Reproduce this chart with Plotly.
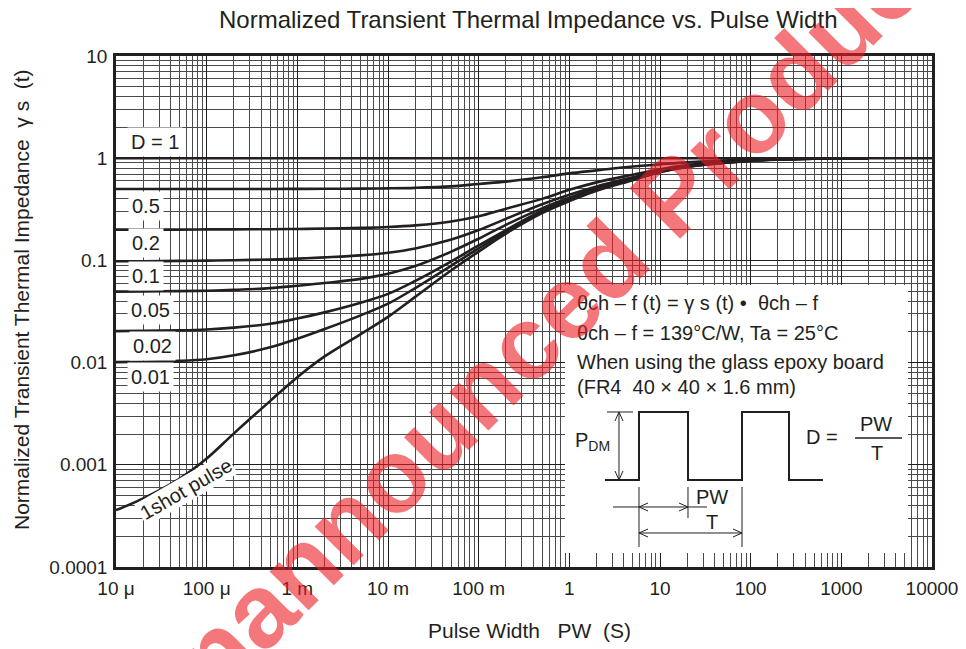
import plotly.graph_objects as go

# ---------------- data ----------------
pulse_width = [1e-5, 2e-5, 5e-5, 1e-4, 2e-4, 5e-4, 1e-3, 2e-3, 5e-3, 1e-2, 2e-2, 5e-2,
               0.1, 0.2, 0.5, 1, 2, 5, 10, 20, 50, 100, 200, 500, 1000, 2000]

z_single = [0.00036, 0.00047, 0.00073, 0.00115, 0.00203, 0.0042, 0.0072, 0.0115, 0.019, 0.028, 0.044, 0.080,
            0.122, 0.183, 0.29, 0.38, 0.48, 0.61, 0.73, 0.82, 0.90, 0.94, 0.97, 0.99, 0.998, 1.0]
z_d001 = [0.0101, 0.0102, 0.0104, 0.0108, 0.0118, 0.0141, 0.0171, 0.0213, 0.029, 0.0377, 0.0536, 0.089,
          0.131, 0.19, 0.30, 0.39, 0.49, 0.62, 0.735, 0.825, 0.90, 0.945, 0.97, 0.99, 0.998, 1.0]
z_d002 = [0.0203, 0.0205, 0.0207, 0.0211, 0.022, 0.024, 0.027, 0.031, 0.0385, 0.047, 0.063, 0.098,
          0.14, 0.198, 0.306, 0.40, 0.50, 0.625, 0.74, 0.83, 0.905, 0.945, 0.97, 0.99, 0.998, 1.0]
z_d005 = [0.0495, 0.0497, 0.050, 0.0505, 0.0515, 0.0535, 0.0565, 0.060, 0.066, 0.074, 0.088, 0.122,
          0.163, 0.223, 0.323, 0.41, 0.51, 0.63, 0.745, 0.835, 0.905, 0.95, 0.975, 0.99, 0.998, 1.0]
z_d01 = [0.098, 0.098, 0.099, 0.0995, 0.1005, 0.102, 0.104, 0.107, 0.112, 0.119, 0.131, 0.16,
         0.198, 0.255, 0.355, 0.44, 0.53, 0.65, 0.755, 0.84, 0.91, 0.95, 0.975, 0.99, 0.998, 1.0]
z_d02 = [0.200, 0.200, 0.200, 0.201, 0.201, 0.202, 0.203, 0.205, 0.208, 0.212, 0.22, 0.24,
         0.27, 0.32, 0.40, 0.49, 0.58, 0.69, 0.78, 0.855, 0.92, 0.955, 0.975, 0.99, 0.998, 1.0]
z_d05 = [0.50, 0.50, 0.50, 0.50, 0.50, 0.50, 0.501, 0.502, 0.504, 0.507, 0.513, 0.53,
         0.56, 0.59, 0.65, 0.71, 0.76, 0.83, 0.87, 0.91, 0.95, 0.97, 0.985, 0.994, 0.999, 1.0]
d1_x = [1e-5, 1e4]
d1_y = [1.0, 1.0]

x_tickvals = [1e-5, 1e-4, 1e-3, 1e-2, 1e-1, 1, 10, 100, 1000, 10000]
x_ticktext = ["10 \u03bc", "100 \u03bc", "1 m", "10 m", "100 m", "1", "10", "100", "1000", "10000"]
y_tickvals = [1e-4, 1e-3, 1e-2, 1e-1, 1, 10]
y_ticktext = ["0.0001", "0.001", "0.01", "0.1", "1", "10"]

duty_labels = ["D = 1", "0.5", "0.2", "0.1", "0.05", "0.02", "0.01"]

# ---------------- layout helpers (reference pixel frame) ----------------
OFF = 8                      # default page margin of the html body
W, H = 966 - OFF, 649 - OFF
L, R, T, B = 116, 932, 56, 567
FONT = "Liberation Sans, Arial, Helvetica, sans-serif"
INK = "#231f20"


def fx(x):
    return (x - L) / (R - L)


def fy(y):
    return (B - y) / (B - T)


def path(points):
    return "M " + " L ".join(f"{fx(a):.5f},{fy(b):.5f}" for a, b in points)


fig = go.Figure()

series = [z_d05, z_d02, z_d01, z_d005, z_d002, z_d001, z_single]
for ys in series:
    fig.add_trace(go.Scatter(x=pulse_width, y=ys, mode="lines",
                             line=dict(color=INK, width=2.6, shape="spline", smoothing=1.0),
                             hoverinfo="skip"))
fig.add_trace(go.Scatter(x=d1_x, y=d1_y, mode="lines",
                         line=dict(color=INK, width=2.6), hoverinfo="skip"))

axis_common = dict(
    type="log", showgrid=True, gridcolor="#1e1e1e", gridwidth=1.4,
    minor=dict(showgrid=True, dtick="D1", gridcolor="#4a4a4a", gridwidth=1.0, ticks=""),
    showline=True, mirror=True, linecolor=INK, linewidth=2.5,
    ticks="outside", ticklen=2, tickcolor="rgba(0,0,0,0)",
    zeroline=False, automargin=False, ticklabeloverflow="allow",
    tickfont=dict(family=FONT, size=19, color=INK),
)
fig.update_xaxes(range=[-5, 4], tickvals=x_tickvals, ticktext=x_ticktext, **axis_common)
fig.update_yaxes(range=[-4, 1], tickvals=y_tickvals, ticktext=y_ticktext, **axis_common)

shapes = []
# white inset box
shapes.append(dict(type="rect", xref="paper", yref="paper", x0=fx(565), x1=fx(908), y0=fy(553), y1=fy(285),
                   fillcolor="white", line=dict(width=0), layer="above"))
# pulse wave
wave = [(605, 480), (639, 480), (639, 412), (688, 412), (688, 480), (742, 480), (742, 412),
        (789, 412), (789, 480), (823, 480)]
shapes.append(dict(type="path", xref="paper", yref="paper", path=path(wave),
                   line=dict(color=INK, width=2), layer="above"))
thin = dict(color=INK, width=1)
segs = [
    [(607, 412), (633, 412)],
    [(619, 412), (619, 480)],
    [(615, 421), (619, 412), (623, 421)],
    [(615, 471), (619, 480), (623, 471)],
    [(639, 487), (639, 547)],
    [(688, 487), (688, 518)],
    [(742, 487), (742, 547)],
    [(613, 507), (707, 507)],
    [(648, 503), (639, 507), (648, 511)],
    [(679, 503), (688, 507), (679, 511)],
    [(639, 533), (742, 533)],
    [(648, 529), (639, 533), (648, 537)],
    [(733, 529), (742, 533), (733, 537)],
]
for s in segs:
    shapes.append(dict(type="path", xref="paper", yref="paper", path=path(s), line=thin, layer="above"))
shapes.append(dict(type="path", xref="paper", yref="paper", path=path([(855, 438), (902, 438)]),
                   line=dict(color=INK, width=1.5), layer="above"))

ann = []


def text(t, x, y, size=20, xanchor="center", angle=0, bg=None, color=INK, pad=1):
    d = dict(text=t, x=fx(x), y=fy(y), xref="paper", yref="paper", showarrow=False,
             xanchor=xanchor, yanchor="middle", textangle=angle,
             font=dict(family=FONT, size=size, color=color))
    if bg:
        d["bgcolor"] = bg
        d["borderpad"] = pad
    ann.append(d)


# title and axis titles
text("Normalized Transient Thermal Impedance vs. Pulse Width", 528, 19, size=24)
text("Pulse Width\u00a0\u00a0\u00a0PW\u00a0\u00a0(S)", 529, 630, size=21)
text("Normalized Transient Thermal Impedance\u00a0\u00a0\u03b3\u00a0s\u00a0\u00a0(t)", 21, 300, size=21, angle=-90)

# duty labels
label_pos = [(155, 142), (146, 206), (146, 243), (146, 276), (150, 310), (152, 346), (150, 377)]
for lab, (x, y) in zip(duty_labels, label_pos):
    text(lab, x, y, size=20, bg="white", pad=3)
text("1shot pulse", 186, 489, size=20, angle=-30, bg="white", pad=1)

# inset text
text("\u03b8ch \u2013 f (t) = \u03b3 s (t) \u2022\u00a0\u00a0\u03b8ch \u2013 f", 575, 303, size=20, xanchor="left")
text("\u03b8ch \u2013 f = 139\u00b0C/W, Ta = 25\u00b0C", 575, 333, size=20, xanchor="left")
text("When using the glass epoxy board", 575, 362, size=20, xanchor="left")
text("(FR4\u00a0\u00a040 \u00d7 40 \u00d7 1.6 mm)", 575, 387, size=20, xanchor="left")
text("P<sub>DM</sub>", 592, 441, size=20)
text("D =", 822, 437, size=20)
text("PW", 876, 424, size=20)
text("T", 877, 453, size=20)
text("PW", 712, 497, size=20)
text("T", 712, 522, size=20)

# watermark
text("<b>Unannounced Product</b>", 533, 335, size=104, angle=-45, color="rgba(236,28,36,0.6)")

fig.update_layout(
    width=W, height=H,
    margin=dict(l=L - OFF, r=W - (R - OFF), t=T - OFF, b=H - (B - OFF), autoexpand=False),
    paper_bgcolor="white", plot_bgcolor="white", showlegend=False,
    shapes=shapes, annotations=ann, font=dict(family=FONT, color=INK),
)

fig.write_html("out.html")
